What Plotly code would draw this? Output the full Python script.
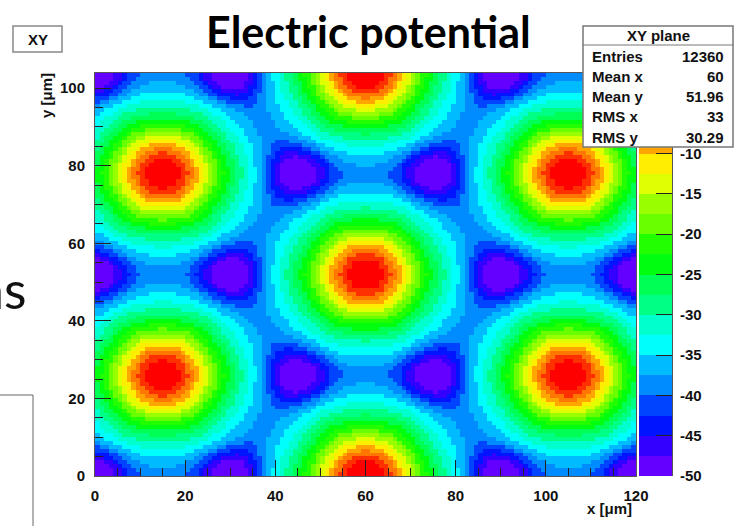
import numpy as np
import plotly.graph_objects as go

W, H = 743, 526

# ---- data ----------------------------------------------------------------
# hexagon centres (potential maxima, red) in micrometres
peak_x = [15, 15, 60, 60, 60, 105, 105, -30, -30, -30, 150, 150, 150, 15, 105, 15, 105]
peak_y = [25.98, 77.94, 0.0, 51.96, 103.92, 25.98, 77.94, 0.0, 51.96, 103.92,
          0.0, 51.96, 103.92, -25.98, -25.98, 129.9, 129.9]
# hexagon corners (potential minima, violet)
valley_x = [0, 30, 90, 120, -15, 45, 75, 135, 0, 30, 90, 120, -15, 45, 75, 135, 0, 30, 90, 120]
valley_y = [0.0, 0.0, 0.0, 0.0, 25.98, 25.98, 25.98, 25.98, 51.96, 51.96, 51.96, 51.96,
            77.94, 77.94, 77.94, 77.94, 103.92, 103.92, 103.92, 103.92]
peak_v = 0.0        # potential at a centre (clipped red)
edge_v = -39.0      # potential on the hexagon edges
valley_v = -50.5    # potential at a hexagon corner
half_r, half_q = 13.8, 2.3   # radial fall-off of the centre potential
cell_apothem = 25.98
hex_mix = 0.3
valley_width, valley_q = 7.0, 2.5

# histogram binning (Entries 12360 = 120 x 103)
nbx, nby = 120, 103
x_max, y_max = 120.0, 103.92

# palette levels (20 contours between -50 and 0)
z_min, z_max, n_cont = -50.0, 0.0, 20
cbar_ticks = [-50, -45, -40, -35, -30, -25, -20, -15, -10]
cbar_text = ["-50", "-45", "-40", "-35", "-30", "-25", "-20", "-15", "-10"]

stats_names = ["Entries", "Mean x", "Mean y", "RMS x", "RMS y"]
stats_vals = ["12360", "60", "51.96", "33", "30.29"]

# ---- field ----------------------------------------------------------------
xc = (np.arange(nbx) + 0.5) * x_max / nbx
yc = (np.arange(nby) + 0.5) * y_max / nby
X, Y = np.meshgrid(xc, yc)

normals = [(np.cos(np.radians(a)), np.sin(np.radians(a))) for a in (30, 90, 150)]
reff = np.full_like(X, 1e9)
for px_, py_ in zip(peak_x, peak_y):
    dx, dy = X - px_, Y - py_
    r = np.hypot(dx, dy)
    dh = np.max([np.abs(nx * dx + ny * dy) for nx, ny in normals], axis=0)
    reff = np.minimum(reff, (1 - hex_mix) * r + hex_mix * dh)

def prof(r):
    return 1.0 / (1.0 + (r / half_r) ** half_q)

g_edge = prof(cell_apothem)
g = np.clip((prof(reff) - g_edge) / (1 - g_edge), 0.0, 1.0)
Z = edge_v + (peak_v - edge_v) * g
depth = (edge_v - valley_v)
for vx, vy in zip(valley_x, valley_y):
    r = np.hypot(X - vx, Y - vy)
    Z -= depth * np.exp(-(r / valley_width) ** valley_q)
Z = np.clip(Z, z_min + 0.01, z_max - 0.01)

# ---- ROOT "pretty" palette, 20 bands ---------------------------------------
def hls_rgb(h):
    h = h % 360
    if h < 60:
        r, g_, b = 1, h / 60, 0
    elif h < 120:
        r, g_, b = (120 - h) / 60, 1, 0
    elif h < 180:
        r, g_, b = 0, 1, (h - 120) / 60
    elif h < 240:
        r, g_, b = 0, (240 - h) / 60, 1
    else:
        r, g_, b = (h - 240) / 60, 0, 1
    return "rgb(%d,%d,%d)" % (round(r * 255), round(g_ * 255), round(b * 255))

band_cols = []
for k in range(n_cont):
    idx = int((k + 0.99) * 50 / n_cont)
    hue = 0.0 if idx >= 49 else 280 - (idx + 1) * 5.6
    band_cols.append(hls_rgb(hue))
cscale = []
for k, c in enumerate(band_cols):
    cscale.append([k / n_cont, c])
    cscale.append([(k + 1) / n_cont, c])

step = (z_max - z_min) / n_cont
level_mid = [z_min + (k + 0.5) * step for k in range(n_cont)]

# ---- figure ---------------------------------------------------------------
def fx(p):
    return p / W

def fy(p):
    return 1 - p / H

TICKC = "#222222"
AXF = dict(family="Liberation Sans, Arial", size=15, color="#111111", weight="bold")

fig = go.Figure()
fig.add_trace(go.Heatmap(x=xc, y=yc, z=Z, zmin=z_min, zmax=z_max, colorscale=cscale,
                         showscale=False, zsmooth=False, hoverinfo="skip"))
fig.add_trace(go.Heatmap(x=[0.5], y=level_mid, z=[[v] for v in level_mid],
                         zmin=z_min, zmax=z_max, colorscale=cscale, showscale=False,
                         xaxis="x2", yaxis="y2", hoverinfo="skip"))

fig.update_layout(
    width=W, height=H, margin=dict(l=0, r=0, t=0, b=0, pad=0, autoexpand=False),
    paper_bgcolor="white", plot_bgcolor="white", showlegend=False,
    xaxis=dict(domain=[fx(95), fx(636)], range=[0, x_max], anchor="y", automargin=False,
               ticks="inside", ticklen=16, tickwidth=1, tickcolor=TICKC,
               tickvals=[0, 20, 40, 60, 80, 100, 120], tickfont=AXF,
               ticklabelstandoff=6,
               minor=dict(ticks="inside", ticklen=8, tickwidth=1, tickcolor=TICKC, dtick=5),
               showline=True, linecolor="#555555", linewidth=1, mirror=True,
               showgrid=False, zeroline=False),
    yaxis=dict(domain=[fy(476), fy(73)], range=[0, y_max], anchor="x", automargin=False,
               ticks="inside", ticklen=16, tickwidth=1, tickcolor=TICKC,
               tickvals=[0, 20, 40, 60, 80, 100], tickfont=AXF,
               ticklabelstandoff=6,
               minor=dict(ticks="inside", ticklen=8, tickwidth=1, tickcolor=TICKC, dtick=5),
               showline=True, linecolor="#555555", linewidth=1, mirror=True,
               showgrid=False, zeroline=False),
    xaxis2=dict(domain=[fx(639), fx(672)], range=[0, 1], anchor="y2", visible=False,
                automargin=False),
    yaxis2=dict(domain=[fy(476), fy(73)], range=[z_min, z_max], anchor="x2", side="right",
                automargin=False,
                ticks="inside", ticklen=16, tickwidth=1, tickcolor=TICKC,
                tickvals=cbar_ticks, ticktext=cbar_text, tickfont=AXF, ticklabelstandoff=4,
                showline=True, linecolor="#555555", linewidth=1,
                showgrid=False, zeroline=False),
)

shapes = []
# stats box
shapes.append(dict(type="rect", xref="paper", yref="paper", x0=fx(583), x1=fx(733),
                   y0=fy(147), y1=fy(26), fillcolor="white",
                   line=dict(color="#777777", width=1.5)))
shapes.append(dict(type="line", xref="paper", yref="paper", x0=fx(583), x1=fx(733),
                   y0=fy(45), y1=fy(45), line=dict(color="#777777", width=1)))
# XY label box
shapes.append(dict(type="rect", xref="paper", yref="paper", x0=fx(13), x1=fx(62),
                   y0=fy(52), y1=fy(26), fillcolor="white",
                   line=dict(color="#888888", width=1.5)))
# slide frame fragment at bottom-left
shapes.append(dict(type="path", xref="paper", yref="paper",
                   path="M %f,%f L %f,%f L %f,%f" % (fx(0), fy(395), fx(33), fy(395), fx(33), fy(526)),
                   line=dict(color="#666666", width=1)))
fig.update_layout(shapes=shapes)

ann = []
SF = dict(family="Liberation Sans, Arial", size=15, color="#111111", weight="bold")
ann.append(dict(text="XY plane", x=fx(658), y=fy(35.5), xref="paper", yref="paper",
                showarrow=False, xanchor="center", yanchor="middle", font=SF))
for i, (n, v) in enumerate(zip(stats_names, stats_vals)):
    yy = fy(57 + 20 * i)
    ann.append(dict(text=n, x=fx(590), y=yy, xref="paper", yref="paper", showarrow=False,
                    xanchor="left", yanchor="middle", font=SF))
    ann.append(dict(text=v, x=fx(726), y=yy, xref="paper", yref="paper", showarrow=False,
                    xanchor="right", yanchor="middle", font=SF))
ann.append(dict(text="XY", x=fx(37.5), y=fy(39.5), xref="paper", yref="paper", showarrow=False,
                xanchor="center", yanchor="middle", font=SF))
ann.append(dict(text="Electric potential", x=fx(368), y=fy(31), xref="paper", yref="paper",
                showarrow=False, xanchor="center", yanchor="middle",
                font=dict(family="Lato", size=43, color="black", weight="bold")))
ann.append(dict(text="ns", x=fx(29), y=fy(289), xref="paper", yref="paper",
                showarrow=False, xanchor="right", yanchor="middle",
                font=dict(family="Lato", size=52, color="#111111")))
ann.append(dict(text="x [μm]", x=fx(634), y=fy(508), xref="paper", yref="paper",
                showarrow=False, xanchor="right", yanchor="middle", font=SF))
ann.append(dict(text="y [μm]", x=fx(46), y=fy(96), xref="paper", yref="paper",
                showarrow=False, xanchor="center", yanchor="middle", textangle=-90, font=SF))
fig.update_layout(annotations=ann)

fig.write_html("out.html")
